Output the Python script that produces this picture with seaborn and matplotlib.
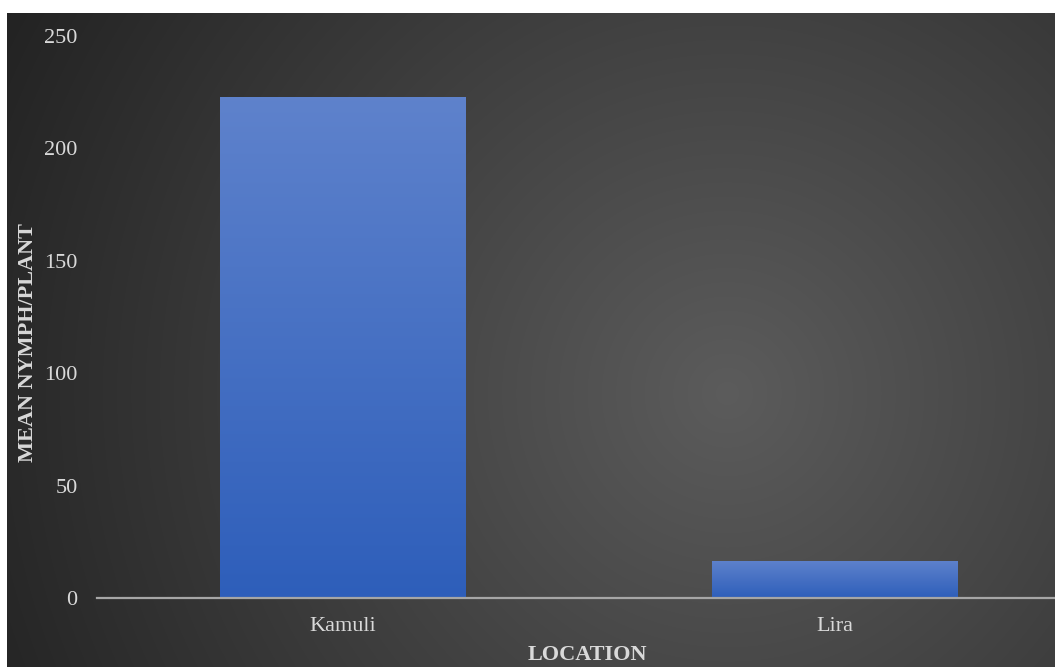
import matplotlib
matplotlib.use("Agg")
import matplotlib.pyplot as plt
import numpy as np
import pandas as pd
import seaborn as sns

locations = ["Kamuli", "Lira"]
mean_nymph = [222.8, 16.5]
y_ticks = [0, 50, 100, 150, 200, 250]

df = pd.DataFrame({"LOCATION": locations, "MEAN": mean_nymph})

sns.set_theme(style="white")
plt.rcParams["font.family"] = ["Liberation Serif", "DejaVu Serif"]

W, H = 1055, 667
fig = plt.figure(figsize=(W / 100, H / 100), dpi=100)
fig.patch.set_facecolor("white")

# dark radial background (white margin top and left like the screenshot)
bg = fig.add_axes([7 / W, 0, 1 - 7 / W, 1 - 13 / H])
yy, xx = np.mgrid[0:H - 13, 0:W - 7]
cx, cy = 720, 380
r = np.sqrt((xx - cx) ** 2 + (yy - cy) ** 2) / 800
shade = np.clip(0.36 - 0.22 * r, 0.13, 0.36)
bg.imshow(np.dstack([shade] * 3), aspect="auto", interpolation="bilinear")
bg.axis("off")

ax = fig.add_axes([97 / W, (H - 598) / H, (W - 97) / W, (598 - 36) / H])
ax.patch.set_alpha(0)
sns.barplot(data=df, x="LOCATION", y="MEAN", ax=ax, color="#3d6cc6", width=0.5,
            saturation=1)

# vertical gradient on bars
grad = np.linspace(0, 1, 256).reshape(-1, 1)
top = np.array([0.37, 0.51, 0.80])
bot = np.array([0.18, 0.37, 0.73])
img = top + (bot - top) * grad[..., None]
for p in ax.patches:
    x0, y0 = p.get_x(), p.get_y()
    w, h = p.get_width(), p.get_height()
    im = ax.imshow(img, extent=[x0, x0 + w, y0, y0 + h], aspect="auto", zorder=3)
    im.set_clip_path(p)
    p.set_edgecolor("none")

ax.set_xlim(-0.5, (W - 97) / 492 - 0.5)
ax.set_ylim(0, 250)
ax.set_yticks(y_ticks)
for s in ["top", "right", "left"]:
    ax.spines[s].set_visible(False)
ax.spines["bottom"].set_color("#a6a6a6")
ax.spines["bottom"].set_linewidth(1.6)
ax.spines["bottom"].set_zorder(5)
ax.tick_params(axis="both", colors="#d9d9d9", labelsize=16, length=0)
ax.tick_params(axis="y", pad=14)
ax.tick_params(axis="x", pad=14)
ax.set_xlabel("")
ax.set_ylabel("")

fig.text(28 / W, 1 - 343 / H, "MEAN NYMPH/PLANT", rotation=90, ha="center", va="center",
         color="#d9d9d9", fontsize=16, fontweight="bold")
fig.text(587 / W, 2 / H, "LOCATION", ha="center", va="bottom",
         color="#d9d9d9", fontsize=16, fontweight="bold")

fig.savefig("out.png", dpi=100)
